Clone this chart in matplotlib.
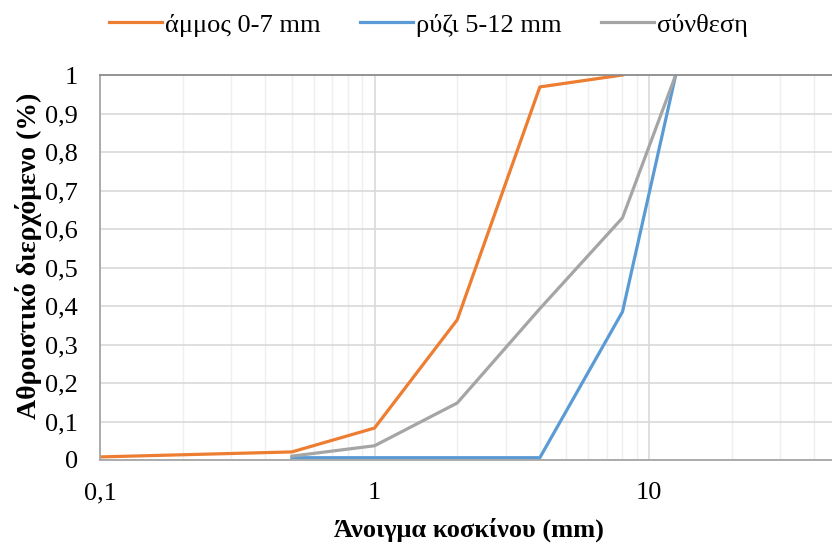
import numpy as np
import matplotlib.pyplot as plt
from matplotlib.ticker import FixedLocator, FuncFormatter, LogLocator, NullFormatter

plt.rcParams['font.family'] = ['Liberation Serif', 'DejaVu Serif']

# sieve openings (mm) and cumulative passing
sand_x = [0.1, 0.5, 1, 2, 4, 8]
sand_y = [0.008, 0.021, 0.083, 0.364, 0.969, 1.0]
rice_x = [0.5, 1, 2, 4, 8, 12.5]
rice_y = [0.006, 0.006, 0.006, 0.006, 0.385, 1.0]
mix_x = [0.5, 1, 2, 4, 8, 12.5]
mix_y = [0.01, 0.037, 0.148, 0.393, 0.629, 1.0]
labels = ['άμμος 0-7 mm', 'ρύζι 5-12 mm', 'σύνθεση']
y_ticks = [0, 0.1, 0.2, 0.3, 0.4, 0.5, 0.6, 0.7, 0.8, 0.9, 1]

fig = plt.figure(figsize=(8.32, 5.44), dpi=100)
ax = fig.add_axes([100/832, 84/544, 741/832, 385/544])

ax.plot(sand_x, sand_y, color='#ED7D31', lw=2.3, label=labels[0])
ax.plot(rice_x, rice_y, color='#5B9BD5', lw=2.3, label=labels[1])
ax.plot(mix_x, mix_y, color='#A5A5A5', lw=2.3, label=labels[2])

ax.set_xscale('log')
ax.set_xlim(0.1, 50)
ax.set_ylim(0, 1)

ax.xaxis.set_major_locator(FixedLocator([0.1, 1, 10]))
ax.xaxis.set_minor_locator(LogLocator(base=10, subs=np.arange(2, 10)))
ax.xaxis.set_minor_formatter(NullFormatter())
ax.xaxis.set_major_formatter(FuncFormatter(lambda v, p: ('%g' % v).replace('.', ',')))
ax.set_yticks(y_ticks)
ax.yaxis.set_major_formatter(FuncFormatter(lambda v, p: ('%g' % v).replace('.', ',')))

ax.grid(which='major', color='#D9D9D9', lw=1.2)
ax.grid(which='minor', axis='x', color='#EFEFEF', lw=1.0)
ax.set_axisbelow(True)

ax.spines['right'].set_visible(False)
for s in ['left', 'bottom', 'top']:
    ax.spines[s].set_color('#A6A6A6')
    ax.spines[s].set_linewidth(1.3)
ax.spines['top'].set_color('#8C8C8C')

ax.tick_params(which='both', length=0, labelsize=19)
ax.tick_params(axis='x', pad=16)
ax.tick_params(axis='y', pad=16)

ax.set_xlabel('Άνοιγμα κοσκίνου (mm)', fontsize=19, fontweight='bold')
ax.xaxis.label.set_va('center')
ax.xaxis.set_label_coords(0.498, -0.182)
ax.set_ylabel('Αθροιστικό διερχόμενο (%)', fontsize=20, fontweight='bold')
ax.yaxis.label.set_va('center')
ax.yaxis.set_label_coords(-0.097, 0.53)

fig.legend(loc='center', bbox_to_anchor=(0.515, 1 - 25/544), ncol=3, frameon=False,
           fontsize=19, handlelength=2.0, handletextpad=0.12, columnspacing=1.5)

fig.savefig('out.png', dpi=100)
